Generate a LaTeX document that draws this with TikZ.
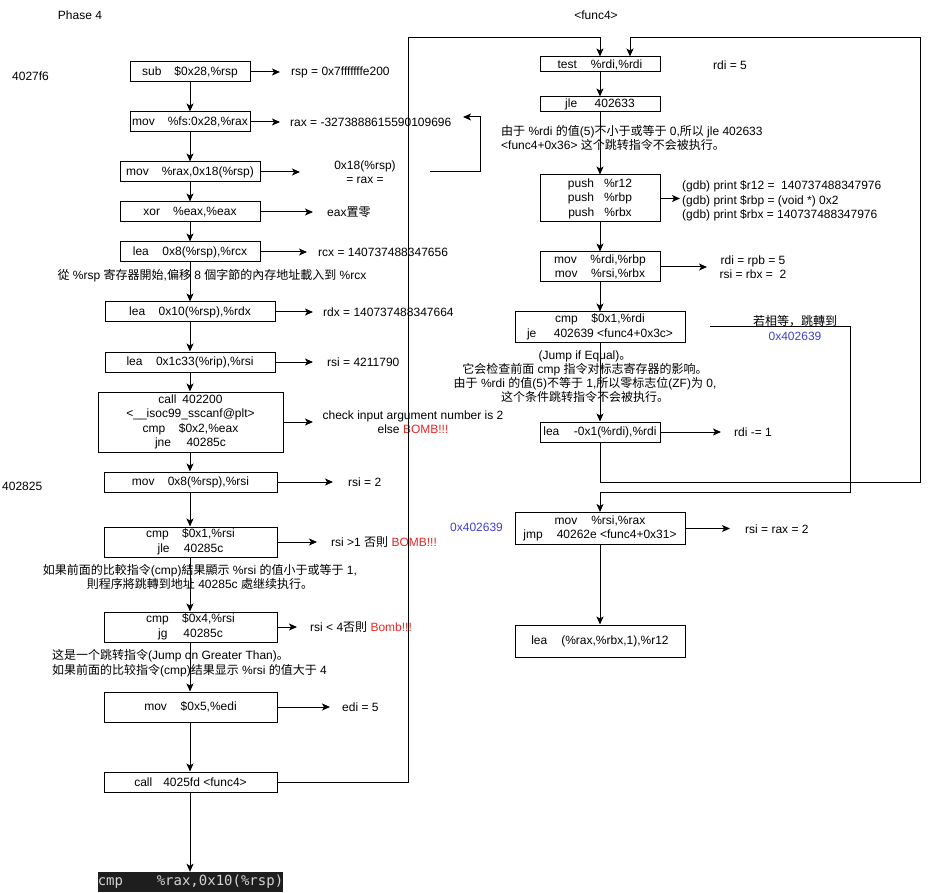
\documentclass[tikz,border=0pt]{standalone}
\usepackage{fontspec}
\setmainfont{Liberation Sans}
\newfontfamily\cjk{Noto Sans CJK SC}
\newfontfamily\monof{DejaVu Sans Mono}
\usetikzlibrary{arrows.meta}
\definecolor{bombred}{RGB}{230,40,40}
\definecolor{addrblue}{RGB}{64,64,208}
\definecolor{codebg}{RGB}{30,30,30}
\definecolor{codefg}{RGB}{212,212,212}
\newcommand\zh[1]{{\cjk #1}}
\newcommand\gp[1]{\hspace{#1pt}}
\begin{document}
\begin{tikzpicture}[x=1pt,y=-1pt,
  every node/.style={font=\fontsize{12}{14.5}\selectfont, inner sep=0pt},
  box/.style={draw, line width=1pt, align=center, minimum height=20pt},
  lbl/.style={anchor=west},
  note/.style={align=center},
  arr/.style={line width=1pt, -{Stealth[length=8pt,width=7pt,inset=2pt]}},
  ln/.style={line width=1pt}]
\useasboundingbox (0,0) rectangle (929,893);

% ---------- titles ----------
\node (ph) at (80,15) {Phase 4};
\node (f4) at (596,15) {<func4>};
\node[lbl] (ad1) at (12,76) {4027f6};
\node[lbl] (ad2) at (2,486) {402825};
\node[lbl, text=addrblue] (ad3) at (450,527) {0x402639};

% ---------- left column ----------
\node[box, minimum width=120pt] (sub) at (190,72) {sub\gp{13}\$0x28,\%rsp};
\node[box, minimum width=120pt] (movfs) at (190,122) {mov\gp{13}\%fs:0x28,\%rax};
\node[box, minimum width=140pt] (movrax) at (190,172) {mov\gp{13}\%rax,0x18(\%rsp)};
\node[box, minimum width=140pt] (xor) at (190,212) {xor\gp{13}\%eax,\%eax};
\node[box, minimum width=140pt] (learcx) at (190,252) {lea\gp{13.5}0x8(\%rsp),\%rcx};
\node[box, minimum width=170pt] (leardx) at (190,312) {lea\gp{13.5}0x10(\%rsp),\%rdx};
\node[box, minimum width=170pt] (learsi) at (190,362) {lea\gp{13.5}0x1c33(\%rip),\%rsi};
\node[box, minimum width=185pt, minimum height=60pt] (call) at (190.5,422)
  {call\gp{6}402200\\<\_\_isoc99\_sscanf@plt>\\cmp\gp{13.5}\$0x2,\%eax\\jne\gp{15.5}40285c};
\node[box, minimum width=173pt] (mov8) at (190.5,482) {mov\gp{13.3}0x8(\%rsp),\%rsi};
\node[box, minimum width=173pt, minimum height=30pt] (cmp1) at (190.5,542) {cmp\gp{13.3}\$0x1,\%rsi\\jle\gp{14.3}40285c};
\node[box, minimum width=173pt, minimum height=30pt] (cmp4) at (190.5,627) {cmp\gp{13.3}\$0x4,\%rsi\\jg\gp{16}40285c};
\node[box, minimum width=173pt, minimum height=30pt] (mov5) at (190.5,707) {mov\gp{13.7}\$0x5,\%edi};
\node[box, minimum width=173pt] (callf) at (190.5,782) {call\gp{11}4025fd <func4>};
\node[fill=codebg, text=codefg, font=\monof\fontsize{14}{16}\selectfont,
      minimum width=185pt, minimum height=20pt] (blk) at (190.5,882) {cmp\gp{33.7}\%rax,0x10(\%rsp)};

% left notes
\node[note] (n1) at (212,276) {\zh{從} \%rsp \zh{寄存器開始},\zh{偏移} 8 \zh{個字節的內存地址載入到} \%rcx};
\node[note] (n2) at (200,577) {\zh{如果前面的比較指令}(cmp)\zh{結果顯示} \%rsi \zh{的值小于或等于} 1,\\\zh{則程序將跳轉到地址} 40285c \zh{處继续执行。}};
\node[align=left, anchor=west] (n3) at (52,663) {\zh{这是一个跳转指令}(Jump on Greater Than)\zh{。}\\\zh{如果前面的比较指令}(cmp)\zh{结果显示} \%rsi \zh{的值大于} 4};

% left labels
\node[lbl] (l1) at (291,72) {rsp = 0x7fffffffe200};
\node[lbl] (l2) at (290,122) {rax = -3273888615590109696};
\node[note] (l3) at (365,172) {0x18(\%rsp)\\= rax =};
\node[lbl] (l4) at (327,212) {eax\zh{置零}};
\node[lbl] (l5) at (318,252) {rcx = 140737488347656};
\node[lbl] (l6) at (323,312) {rdx = 140737488347664};
\node[lbl] (l7) at (327,362) {rsi = 4211790};
\node[note] (l8) at (413,422) {check input argument number is 2\\else \textcolor{bombred}{BOMB!!!}};
\node[lbl] (l9) at (348,482) {rsi = 2};
\node[lbl] (l10) at (331,542) {rsi >1 \zh{否則} \textcolor{bombred}{BOMB!!!}};
\node[lbl] (l11) at (310,627) {rsi < 4\zh{否則} \textcolor{bombred}{Bomb!!!}};
\node[lbl] (l12) at (342,707) {edi = 5};

% arrow end points
\coordinate (e1) at (280,72);
\coordinate (e2) at (280,122);
\coordinate (e3) at (300,172);
\coordinate (e4) at (313,212);
\coordinate (e5) at (307,252);
\coordinate (e6) at (313,312);
\coordinate (e7) at (313,362);
\coordinate (e8) at (313,422);
\coordinate (e9) at (333,482);
\coordinate (e10) at (317,542);
\coordinate (e11) at (297,627);
\coordinate (e12) at (330,707);

\draw[arr] (sub.east) -- (e1);
\draw[arr] (movfs.east) -- (e2);
\draw[arr] (movrax.east) -- (e3);
\draw[arr] (xor.east) -- (e4);
\draw[arr] (learcx.east) -- (e5);
\draw[arr] (leardx.east) -- (e6);
\draw[arr] (learsi.east) -- (e7);
\draw[arr] (call.east) -- (e8);
\draw[arr] (mov8.east) -- (e9);
\draw[arr] (cmp1.east) -- (e10);
\draw[arr] (cmp4.east) -- (e11);
\draw[arr] (mov5.east) -- (e12);

% vertical flow
\draw[arr] (sub.south) -- (movfs.north);
\draw[arr] (movfs.south) -- (movrax.north);
\draw[arr] (movrax.south) -- (xor.north);
\draw[arr] (xor.south) -- (learcx.north);
\draw[arr] (learcx.south) -- (leardx.north);
\draw[arr] (leardx.south) -- (learsi.north);
\draw[arr] (learsi.south) -- (call.north -| learsi.south);
\draw[arr] (call.south -| learsi.south) -- (mov8.north -| learsi.south);
\draw[arr] (mov8.south -| learsi.south) -- (cmp1.north -| learsi.south);
\draw[arr] (cmp1.south -| learsi.south) -- (cmp4.north -| learsi.south);
\draw[arr] (cmp4.south -| learsi.south) -- (mov5.north -| learsi.south);
\draw[arr] (mov5.south -| learsi.south) -- (callf.north -| learsi.south);
\draw[arr] (callf.south -| learsi.south) -- (blk.north -| learsi.south);

% ---------- right column ----------
\node[box, minimum width=120pt, minimum height=15pt] (test) at (600,64.5) {test\gp{14}\%rdi,\%rdi};
\node[box, minimum width=120pt, minimum height=15pt] (jle) at (600,104.5) {jle\gp{17.5}402633};
\node[box, minimum width=120pt, minimum height=47pt] (push) at (600,198.5) {push\gp{10}\%r12\\push\gp{10}\%rbp\\push\gp{10}\%rbx};
\node[box, minimum width=120pt, minimum height=30pt] (movrb) at (600,267) {mov\gp{13.5}\%rdi,\%rbp\\mov\gp{13.5}\%rsi,\%rbx};
\node[box, minimum width=170pt, minimum height=30pt] (cmpje) at (600,327) {cmp\gp{13.5}\$0x1,\%rdi\\je\gp{17.5}402639 <func4+0x3c>};
\node[box, minimum width=120pt] (lea2) at (600,432) {lea\gp{14.5}-0x1(\%rdi),\%rdi};
\node[box, minimum width=170pt, minimum height=32pt] (movr) at (600,528.5) {mov\gp{14}\%rsi,\%rax\\jmp\gp{14}40262e <func4+0x31>};
\node[box, minimum width=170pt, minimum height=32pt] (lear12) at (600,641) {lea\gp{14}(\%rax,\%rbx,1),\%r12};

% right notes & labels
\node[align=left, anchor=west] (n4) at (501,138) {\zh{由于} \%rdi \zh{的值}(5)\zh{不小于或等于} 0,\zh{所以} jle 402633\\<func4+0x36> \zh{这个跳转指令不会被执行。}};
\node[note, font=\fontsize{12}{14}\selectfont] (n5) at (585,377) {(Jump if Equal)\zh{。}\\\zh{它会检查前面} cmp \zh{指令对标志寄存器的影响。}\\\zh{由于} \%rdi \zh{的值}(5)\zh{不等于} 1,\zh{所以零标志位}(ZF)\zh{为} 0,\\\zh{这个条件跳转指令不会被执行。}};
\node[lbl] (r1) at (713,65) {rdi = 5};
\node[align=left, anchor=west] (gdb) at (682,201) {(gdb) print \$r12 =\gp{6.67}140737488347976\\(gdb) print \$rbp = (void *) 0x2\\(gdb) print \$rbx = 140737488347976};
\node[note] (r2) at (753,267) {rdi = rpb = 5\\rsi = rbx =\gp{6.67}2};
\node[note] (r3) at (795,328) {\zh{若相等，跳轉到}\\\textcolor{addrblue}{0x402639}};
\node[lbl] (r4) at (734,432) {rdi -= 1};
\node[lbl] (r5) at (745,529) {rsi = rax = 2};

\coordinate (f1) at (680,198.5);
\coordinate (f2) at (707,267);
\coordinate (f3) at (721,432);
\coordinate (f4e) at (730,528.5);
\draw[arr] (push.east) -- (f1);
\draw[arr] (movrb.east) -- (f2);
\draw[arr] (lea2.east) -- (f3);
\draw[arr] (movr.east) -- (f4e);

\draw[arr] (test.south) -- (jle.north);
\draw[arr] (jle.south) -- (push.north);
\draw[arr] (push.south) -- (movrb.north);
\draw[arr] (movrb.south) -- (cmpje.north);
\draw[arr] (cmpje.south) -- (lea2.north);
\draw[arr] (movr.south) -- (lear12.north);

% call func4 -> test
\coordinate (c1) at (408,38);
\draw[arr] (callf.east) -| (c1) -| (test.north);

% loop back from lea -0x1
\coordinate (c2) at (920,482);
\coordinate (c3) at (630,38);
\draw[arr] (lea2.south) |- (c2) |- (c3) -- (test.north -| c3);

% je jump
\coordinate (j0) at (710,327);
\coordinate (j1) at (850,492);
\draw[arr] (j0) -| (j1) -| (movr.north);

% small return arrow
\coordinate (q0) at (430,172);
\coordinate (q1) at (480,117);
\coordinate (q2) at (463,117);
\draw[arr] (q0) -| (q1) -- (q2);
\end{tikzpicture}
\end{document}
